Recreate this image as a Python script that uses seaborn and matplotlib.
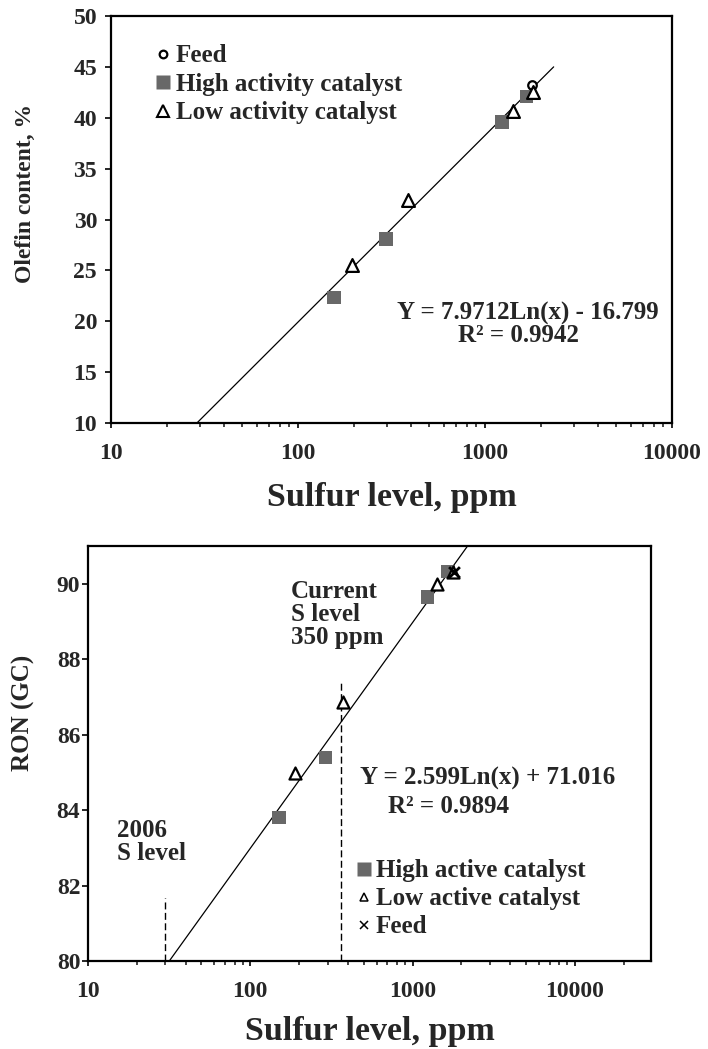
import matplotlib
matplotlib.use("Agg")
import matplotlib.pyplot as plt
from matplotlib.lines import Line2D
from matplotlib.ticker import FixedLocator, FixedFormatter, NullFormatter, LogLocator
import seaborn as sns

# ---------------- data: top chart (olefin content) ----------------
top_high_x = [156, 295, 1233, 1666]
top_high_y = [22.35, 28.1, 39.6, 42.1]
top_low_x = [194, 388, 1406, 1807]
top_low_y = [25.55, 31.96, 40.65, 42.55]
top_feed_x = [1783]
top_feed_y = [43.17]
top_trend_x = [28.8, 2329]
top_trend_y = [10, 45]
top_equation = "Y = 7.9712Ln(x) - 16.799"
top_r2 = "R² = 0.9942"
top_legend_labels = ["Feed", "High activity catalyst", "Low activity catalyst"]
top_yticks = [10, 15, 20, 25, 30, 35, 40, 45, 50]
top_ylabel = "Olefin content, %"

# ---------------- data: bottom chart (RON) ----------------
bot_high_x = [150, 290, 1240, 1650]
bot_high_y = [83.8, 85.4, 89.65, 90.32]
bot_low_x = [188, 375, 1420, 1780]
bot_low_y = [84.98, 86.87, 90.0, 90.3]
bot_feed_x = [1790]
bot_feed_y = [90.32]
bot_trend_x = [31.7, 2185]
bot_trend_y = [80, 91]
bot_level_x = [30, 365]
bot_level_top = [81.67, 87.36]
bot_equation = "Y = 2.599Ln(x) + 71.016"
bot_r2 = "R² = 0.9894"
bot_legend_labels = ["High active catalyst", "Low active catalyst", "Feed"]
bot_yticks = [80, 82, 84, 86, 88, 90]
bot_ylabel = "RON (GC)"
bot_note_current = "Current\nS level\n350 ppm"
bot_note_2006 = "2006\nS level"

xtick_vals = [10, 100, 1000, 10000]
xtick_labels = ["10", "100", "1000", "10000"]
xlabel = "Sulfur level, ppm"

# ---------------- style ----------------
sns.set_style("ticks")
plt.rcParams["font.family"] = ["Liberation Serif", "DejaVu Serif"]
plt.rcParams["font.weight"] = "bold"
plt.rcParams["axes.labelweight"] = "bold"
plt.rcParams["axes.edgecolor"] = "black"
plt.rcParams["axes.linewidth"] = 1.6

GRAY = "#686868"
W, H = 708, 1049
fig = plt.figure(figsize=(W / 100, H / 100), dpi=100)
fig.patch.set_facecolor("white")


def px_axes(left, top, right, bottom):
    return fig.add_axes([left / W, 1 - bottom / H, (right - left) / W, (bottom - top) / H])


ax1 = px_axes(111, 16, 672, 423)
ax2 = px_axes(88, 546, 651, 961)

TICK_FS = 17
TXT_FS = 18


def style_axes(ax, xmax, ylim, yticks, ypad):
    ax.set_xscale("log")
    ax.set_xlim(10, xmax)
    ax.set_ylim(*ylim)
    ax.xaxis.set_major_locator(FixedLocator(xtick_vals))
    ax.xaxis.set_major_formatter(FixedFormatter(xtick_labels))
    ax.xaxis.set_minor_locator(LogLocator(base=10, subs=range(2, 10)))
    ax.xaxis.set_minor_formatter(NullFormatter())
    ax.set_yticks(yticks)
    ax.set_yticklabels([str(v) for v in yticks])
    for s in ax.spines.values():
        s.set_visible(True)
        s.set_linewidth(1.6)
        s.set_color("black")
    ax.tick_params(axis="x", which="major", direction="out", length=3.5, width=1.4,
                   labelsize=TICK_FS, pad=11, top=False)
    ax.tick_params(axis="x", which="minor", direction="out", length=2.8, width=1.2, top=False)
    ax.tick_params(axis="y", which="major", direction="out", length=4, width=1.4,
                   labelsize=TICK_FS, pad=ypad, right=False)
    ax.tick_params(axis="y", which="minor", left=False, right=False)
    for lab in ax.get_xticklabels() + ax.get_yticklabels():
        lab.set_fontweight("bold")
    ax.grid(False)
    ax.set_facecolor("white")


style_axes(ax1, 10000, (10, 50), top_yticks, 6)
style_axes(ax2, 29500, (80, 91), bot_yticks, 1.5)

# ---------------- top chart ----------------
sns.lineplot(x=top_trend_x, y=top_trend_y, ax=ax1, color="black", linewidth=0.9,
             estimator=None, sort=False, zorder=2)
sns.scatterplot(x=top_high_x, y=top_high_y, ax=ax1, marker="s", s=95, color=GRAY,
                edgecolor="none", zorder=3)
sns.scatterplot(x=top_feed_x, y=top_feed_y, ax=ax1, marker="o", s=38, color="white",
                edgecolor="black", linewidth=1.6, zorder=4)
sns.scatterplot(x=top_low_x, y=top_low_y, ax=ax1, marker="^", s=85, color="white",
                edgecolor="black", linewidth=1.6, zorder=5)

h_top = [
    Line2D([], [], linestyle="None", marker="o", markersize=5.5, markerfacecolor="white",
           markeredgecolor="black", markeredgewidth=1.6),
    Line2D([], [], linestyle="None", marker="s", markersize=10, markerfacecolor=GRAY,
           markeredgecolor="none"),
    Line2D([], [], linestyle="None", marker="^", markersize=8.5, markerfacecolor="white",
           markeredgecolor="black", markeredgewidth=1.5),
]
ax1.legend(h_top, top_legend_labels, loc="upper left", bbox_to_anchor=(0.082, 0.93),
           frameon=False, handlelength=0.5, handletextpad=0.25, labelspacing=0.22,
           borderpad=0, borderaxespad=0,
           prop=dict(family="Liberation Serif", weight="bold", size=TXT_FS))

ax1.text(0.743, 0.268, top_equation, transform=ax1.transAxes, ha="center", va="center",
         fontsize=TXT_FS, fontweight="bold")
ax1.text(0.727, 0.214, top_r2, transform=ax1.transAxes, ha="center", va="center",
         fontsize=TXT_FS, fontweight="bold")

ax1.set_xlabel(xlabel, fontsize=24.5, fontweight="bold")
ax1.xaxis.set_label_coords(0.5, -0.184)
ax1.xaxis.label.set_va("center")
ax1.set_ylabel(top_ylabel, fontsize=17, fontweight="bold")
ax1.yaxis.set_label_coords(-0.153, 0.563)
ax1.yaxis.label.set_va("center")

# ---------------- bottom chart ----------------
for lx, ltop in zip(bot_level_x, bot_level_top):
    sns.lineplot(x=[lx, lx], y=[80, ltop], ax=ax2, color="black", linewidth=1.0,
                 linestyle=(0, (5, 2.5)), estimator=None, sort=False, zorder=2)
sns.lineplot(x=bot_trend_x, y=bot_trend_y, ax=ax2, color="black", linewidth=0.9,
             estimator=None, sort=False, zorder=2)
sns.scatterplot(x=bot_high_x, y=bot_high_y, ax=ax2, marker="s", s=95, color=GRAY,
                edgecolor="none", zorder=3)
sns.scatterplot(x=bot_low_x, y=bot_low_y, ax=ax2, marker="^", s=75, color="white",
                edgecolor="black", linewidth=1.6, zorder=4)
sns.scatterplot(x=bot_feed_x, y=bot_feed_y, ax=ax2, marker="x", s=60, color="black",
                linewidth=2.0, zorder=5)

h_bot = [
    Line2D([], [], linestyle="None", marker="s", markersize=9.5, markerfacecolor=GRAY,
           markeredgecolor="none"),
    Line2D([], [], linestyle="None", marker="^", markersize=6, markerfacecolor="white",
           markeredgecolor="black", markeredgewidth=1.1),
    Line2D([], [], linestyle="None", marker="x", markersize=6, color="black",
           markeredgewidth=1.1),
]
ax2.legend(h_bot, bot_legend_labels, loc="upper left", bbox_to_anchor=(0.48, 0.245),
           frameon=False, handlelength=0.5, handletextpad=0.2, labelspacing=0.2,
           borderpad=0, borderaxespad=0,
           prop=dict(family="Liberation Serif", weight="bold", size=TXT_FS))

ax2.text(0.709, 0.439, bot_equation, transform=ax2.transAxes, ha="center", va="center",
         fontsize=TXT_FS, fontweight="bold")
ax2.text(0.64, 0.373, bot_r2, transform=ax2.transAxes, ha="center", va="center",
         fontsize=TXT_FS, fontweight="bold")
ax2.text(0.361, 0.918, bot_note_current, transform=ax2.transAxes, ha="left", va="top",
         fontsize=TXT_FS, fontweight="bold", linespacing=1.0)
ax2.text(0.052, 0.342, bot_note_2006, transform=ax2.transAxes, ha="left", va="top",
         fontsize=TXT_FS, fontweight="bold", linespacing=1.0)

ax2.set_xlabel(xlabel, fontsize=24.5, fontweight="bold")
ax2.xaxis.set_label_coords(0.5, -0.169)
ax2.xaxis.label.set_va("center")
ax2.set_ylabel(bot_ylabel, fontsize=18, fontweight="bold")
ax2.yaxis.set_label_coords(-0.115, 0.598)
ax2.yaxis.label.set_va("center")

fig.savefig("out.png", dpi=100, facecolor="white")
